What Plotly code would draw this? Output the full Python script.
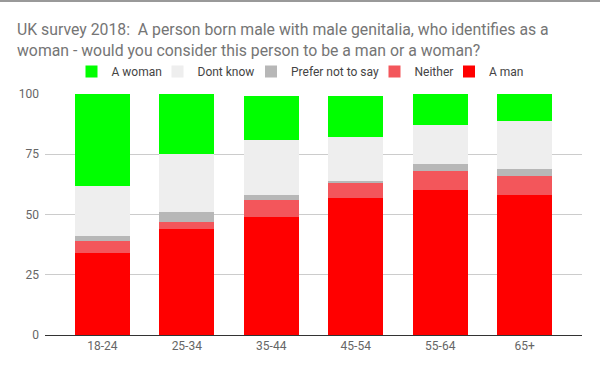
import plotly.graph_objects as go

categories = ["18-24", "25-34", "35-44", "45-54", "55-64", "65+"]
a_man = [34, 44, 49, 57, 60, 58]
neither = [5, 3, 7, 6, 8, 8]
prefer_not = [2, 4, 2, 1, 3, 3]
dont_know = [21, 24, 23, 18, 16, 20]
a_woman = [38, 25, 18, 17, 13, 11]
y_ticks = [0, 25, 50, 75, 100]

series = [
    ("A man", a_man, "#ff0000"),
    ("Neither", neither, "#f3565b"),
    ("Prefer not to say", prefer_not, "#b7b7b7"),
    ("Dont know", dont_know, "#eeeeee"),
    ("A woman", a_woman, "#00ff00"),
]
# legend square centers (px) in reference
legend_px = {"A woman": 89.5, "Dont know": 175.5, "Prefer not to say": 269, "Neither": 392.5, "A man": 467}
legend_ids = {"A woman": "legend", "Dont know": "legend2", "Prefer not to say": "legend3",
              "Neither": "legend4", "A man": "legend5"}

W, H = 600, 369
L, R, T, B = 45, 18, 94, 34
PW, PH = W - L - R, H - T - B

fig = go.Figure()
for name, vals, color in series:
    fig.add_trace(go.Bar(x=categories, y=vals, name=name, marker=dict(color=color, line=dict(width=0)),
                         width=0.652, legend=legend_ids[name]))

layout_legends = {}
for name, lid in legend_ids.items():
    layout_legends[lid] = dict(
        orientation="h",
        x=(legend_px[name] - 18 - L) / PW, xref="paper", xanchor="left",
        y=(H - B - 71.5) / PH, yref="paper", yanchor="middle",
        font=dict(size=12, color="#444444", family="Roboto, Arial, sans-serif"),
        itemwidth=30, bgcolor="rgba(0,0,0,0)",
    )

fig.update_layout(
    barmode="stack",
    width=W, height=H,
    paper_bgcolor="white", plot_bgcolor="white",
    font=dict(family="Roboto, Arial, sans-serif", color="#666666"),
    margin=dict(l=L, r=R, t=T, b=B, autoexpand=False),
    title=dict(
        text="UK survey 2018:  A person born male with male genitalia, who identifies as a<br>woman - would you consider this person to be a man or a woman?",
        x=17/W, xref="container", xanchor="left",
        y=1-35/H, yref="container", yanchor="top",
        font=dict(size=15.8, color="#757575", family="Roboto, Arial, sans-serif"),
    ),
    showlegend=True,
    **layout_legends,
)
fig.add_shape(type="line", xref="paper", yref="paper", layer="above",
              x0=-L/PW, x1=1+R/PW, y0=1+(T-1)/PH, y1=1+(T-1)/PH,
              line=dict(color="#999999", width=2))
fig.update_xaxes(range=[-0.678, 5.678], showgrid=False, showline=True, linecolor="#333333", linewidth=1,
                 ticks="", tickfont=dict(size=12, color="#666666"))
fig.update_yaxes(range=[0, 100], tickvals=y_ticks, showgrid=True, gridcolor="#cccccc", zeroline=False,
                 ticks="", tickfont=dict(size=12, color="#666666"), ticklabelstandoff=5)

fig.write_html("out.html", config={"displayModeBar": False},
               post_script="document.body.style.margin='0';document.body.style.overflow='hidden';")
